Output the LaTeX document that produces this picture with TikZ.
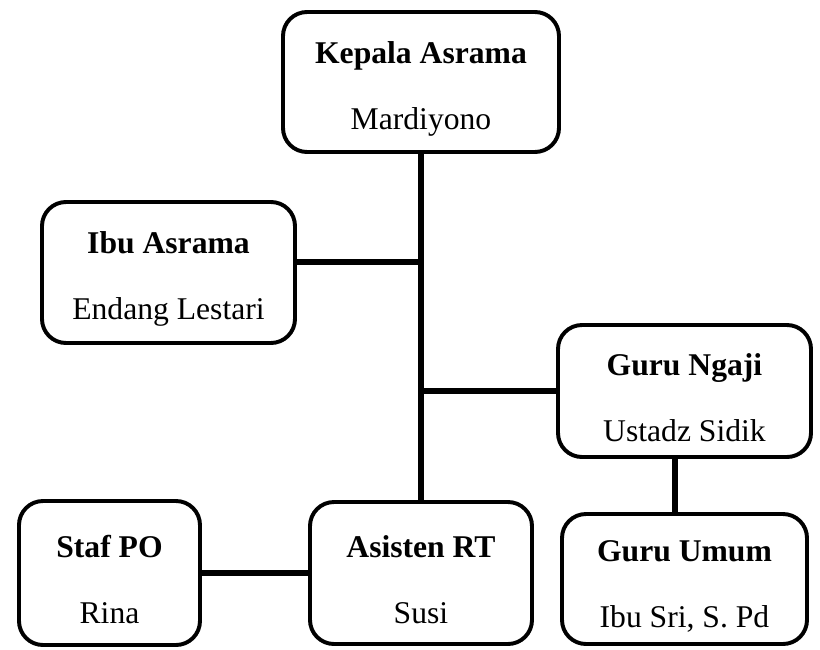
\documentclass[tikz,border=0pt]{standalone}
\usepackage{fontspec}
\setmainfont{Liberation Serif}
\usetikzlibrary{positioning}

\newcommand{\jabatan}[1]{\rule{0pt}{25pt}\textbf{#1}}

\begin{document}
\begin{tikzpicture}[on grid, line width=2.8pt,
    box/.style = {draw, rounded corners=0.6cm, align=center, inner sep=0pt,
                  font=\fontsize{22.5}{47}\selectfont},
    link/.style = {line width=4.6pt}]

    \useasboundingbox (-10.525,2.05) rectangle (9.975,-14.175);

    \node[box, minimum width=6.9cm, minimum height=3.5cm] (K) {\jabatan{Kepala Asrama}\\Mardiyono};
    \node[box, minimum width=5.55cm, minimum height=3.55cm] (A) [below=12.275cm of K] {\jabatan{Asisten RT}\\Susi};
    \node[box, minimum width=6.325cm, minimum height=3.525cm] (I) [below left=4.7625cm and 6.3125cm of K] {\jabatan{Ibu Asrama}\\Endang Lestari};
    \node[box, minimum width=6.325cm, minimum height=3.3cm] (N) [below right=7.725cm and 6.5875cm of K] {\jabatan{Guru Ngaji}\\Ustadz Sidik};
    \node[box, minimum width=4.525cm, minimum height=3.6cm] (S) [left=7.7875cm of A] {\jabatan{Staf PO}\\Rina};
    \node[box, minimum width=6.125cm, minimum height=3.25cm] (U) [below=4.7cm of N] {\jabatan{Guru Umum}\\Ibu Sri, S. Pd};

    \draw[link] (K) -- (A);
    \draw[link] ([yshift=0.26cm]I.east) -- ([yshift=0.26cm]I.east -| K.south);
    \draw[link] (N.west) -- (N.west -| K.south);
    \draw[link] ([xshift=-0.24cm]N.south) -- ([xshift=-0.24cm]N.south |- U.north);
    \draw[link] (S) -- (A);
\end{tikzpicture}
\end{document}
